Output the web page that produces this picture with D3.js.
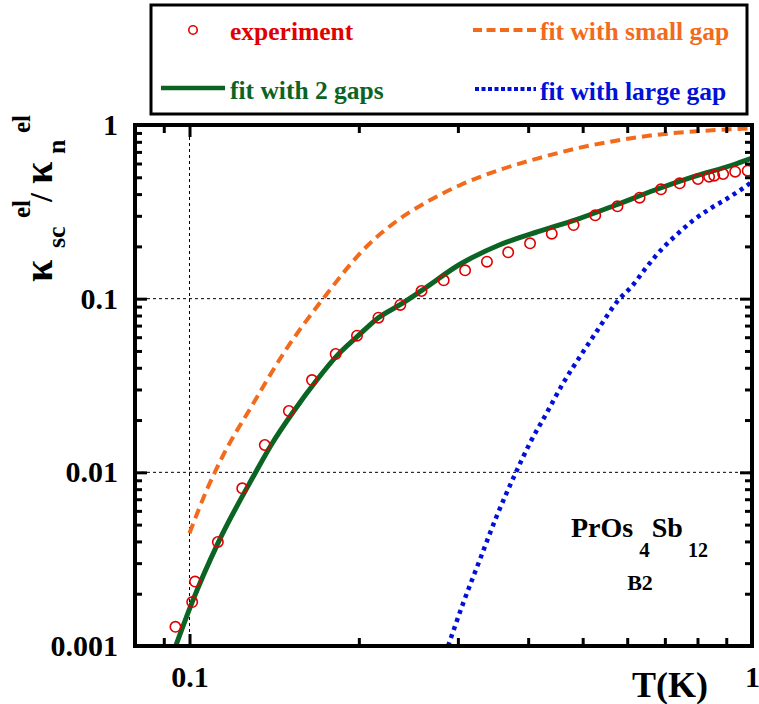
<!DOCTYPE html>
<html>
<head>
<meta charset="utf-8">
<script src="https://cdn.jsdelivr.net/npm/d3@7"></script>
<style>
  html, body { margin: 0; padding: 0; background: #fff; }
  svg { display: block; }
</style>
</head>
<body>
<svg id="chart" width="759" height="704"></svg>
<script>
// ---- data ----
const expT = [0.0944, 0.1011, 0.1023, 0.1123, 0.1241, 0.1361, 0.1502, 0.1651, 0.1819, 0.1985, 0.2167, 0.2370, 0.2585, 0.2831, 0.3090, 0.3379, 0.3686, 0.4031, 0.4406, 0.4817, 0.5264, 0.5765, 0.6311, 0.6889, 0.7437, 0.8014, 0.8390, 0.8568, 0.8886, 0.9334, 0.9825];
const expK = [0.00129, 0.00179, 0.00235, 0.00397, 0.00809, 0.01437, 0.02255, 0.0340, 0.0480, 0.0612, 0.0777, 0.0920, 0.1107, 0.1276, 0.1457, 0.1632, 0.1849, 0.2084, 0.2366, 0.2655, 0.3020, 0.3402, 0.3814, 0.4263, 0.4617, 0.4887, 0.5038, 0.5105, 0.5222, 0.5383, 0.5456];

const twoGapT = [0.0945, 0.1011, 0.1123, 0.1311, 0.1397, 0.1533, 0.1684, 0.1836, 0.1993, 0.2167, 0.2364, 0.2584, 0.3031, 0.3554, 0.4165, 0.4887, 0.5728, 0.6719, 0.7876, 0.9233, 1.0];
const twoGapK = [0.001, 0.00179, 0.0039, 0.0100, 0.01437, 0.02255, 0.0340, 0.0476, 0.0610, 0.0777, 0.092, 0.1112, 0.1583, 0.2037, 0.2430, 0.2864, 0.3462, 0.4223, 0.5038, 0.5884, 0.645];

const smallGapT = [0.1, 0.1071, 0.1146, 0.1288, 0.1476, 0.1739, 0.2069, 0.2349, 0.2669, 0.3031, 0.3554, 0.4165, 0.4887, 0.5728, 0.6719, 0.7876, 1.0];
const smallGapK = [0.00446, 0.00780, 0.01242, 0.02388, 0.0495, 0.1027, 0.2010, 0.2838, 0.3675, 0.4513, 0.5506, 0.6427, 0.734, 0.812, 0.876, 0.917, 0.957];

const largeGapT = [0.2882, 0.3065, 0.3281, 0.3513, 0.3802, 0.4027, 0.4312, 0.4615, 0.4943, 0.5292, 0.5805, 0.6107, 0.6503, 0.6933, 0.7390, 0.7876, 0.8390, 0.8946, 0.9532, 1.0];
const largeGapK = [0.001, 0.00176, 0.00313, 0.00555, 0.00995, 0.01469, 0.02188, 0.0326, 0.0463, 0.0646, 0.0992, 0.1172, 0.1528, 0.195, 0.2378, 0.2838, 0.327, 0.370, 0.4223, 0.47];

const xMajor = [0.1, 1];
const xMinor = [0.09, 0.2, 0.3, 0.4, 0.5, 0.6, 0.7, 0.8, 0.9];
const yMajor = [0.001, 0.01, 0.1, 1];
const yMinor = [];
[0.001, 0.01, 0.1].forEach(d => { for (let k = 2; k <= 9; k++) yMinor.push(+(d * k).toPrecision(3)); });
const xTickLabels = ["0.1", "1"];
const yTickLabels = ["0.001", "0.01", "0.1", "1"];
const legendLabels = ["experiment", "fit with small gap", "fit with 2 gaps", "fit with large gap"];

// ---- styles ----
const FONT = "'Liberation Serif', 'Times New Roman', serif";
const RED = "#e00000", ORANGE = "#f26a1b", GREEN = "#0b6423", BLUE = "#0010d8";

const svg = d3.select("#chart").attr("font-family", FONT).attr("font-weight", "bold");
const L = 135, R = 752, T = 125, B = 646;
const x = d3.scaleLog().domain([0.08, 1]).range([L, R]);
const y = d3.scaleLog().domain([0.001, 1]).range([B, T]);

function txt(sel, s, size) {
  return sel.append("text").attr("font-family", FONT).attr("font-weight", "bold")
    .attr("font-size", size).text(s);
}

svg.append("defs").append("clipPath").attr("id", "clip")
  .append("rect").attr("x", L).attr("y", T).attr("width", R - L).attr("height", B - T);

// grid lines (dotted)
const grid = svg.append("g").attr("stroke", "#000").attr("stroke-width", 1).attr("stroke-dasharray", "3,3");
[0.1, 0.01].forEach(v => grid.append("line").attr("x1", L).attr("x2", R).attr("y1", y(v)).attr("y2", y(v)));
grid.append("line").attr("x1", x(0.1)).attr("x2", x(0.1)).attr("y1", T).attr("y2", B);

// curves
const plot = svg.append("g").attr("clip-path", "url(#clip)");
const line = d3.line().x(d => x(d[0])).y(d => y(d[1])).curve(d3.curveMonotoneX);
const zip = (a, b) => a.map((v, i) => [v, b[i]]);

plot.append("path").datum(zip(smallGapT, smallGapK)).attr("d", line)
  .attr("fill", "none").attr("stroke", ORANGE).attr("stroke-width", 4).attr("stroke-dasharray", "10,6");
plot.append("path").datum(zip(largeGapT, largeGapK)).attr("d", line)
  .attr("fill", "none").attr("stroke", BLUE).attr("stroke-width", 4.5).attr("stroke-dasharray", "4,4.5");
plot.append("path").datum(zip(twoGapT, twoGapK)).attr("d", line)
  .attr("fill", "none").attr("stroke", GREEN).attr("stroke-width", 5);

plot.selectAll("circle.exp").data(zip(expT, expK)).enter().append("circle")
  .attr("class", "exp")
  .attr("cx", d => x(d[0])).attr("cy", d => y(d[1])).attr("r", 5.2)
  .attr("fill", "none").attr("stroke", RED).attr("stroke-width", 1.6);

// axes
function styleAxis(g) {
  g.select(".domain").remove();
  g.attr("font-family", FONT).attr("font-size", 30).attr("font-weight", "bold");
  g.selectAll(".tick line").attr("stroke", "#000").attr("stroke-width", 3);
  g.selectAll(".tick text").attr("fill", "#000").attr("font-family", FONT).attr("font-weight", "bold").attr("font-size", 30);
}
const fmtX = d => xTickLabels[xMajor.indexOf(d)];
const fmtY = d => yTickLabels[yMajor.indexOf(d)];

svg.append("g").attr("transform", `translate(0,${B})`)
  .call(d3.axisBottom(x).tickValues(xMajor).tickSize(-12).tickPadding(20).tickFormat(fmtX)).call(styleAxis);
svg.append("g").attr("transform", `translate(0,${B})`)
  .call(d3.axisBottom(x).tickValues(xMinor).tickSize(-8).tickFormat("")).call(styleAxis);
svg.append("g").attr("transform", `translate(0,${T})`)
  .call(d3.axisTop(x).tickValues(xMajor).tickSize(-12).tickFormat("")).call(styleAxis);
svg.append("g").attr("transform", `translate(0,${T})`)
  .call(d3.axisTop(x).tickValues(xMinor).tickSize(-8).tickFormat("")).call(styleAxis);

svg.append("g").attr("transform", `translate(${L},0)`)
  .call(d3.axisLeft(y).tickValues(yMajor).tickSize(-12).tickPadding(17).tickFormat(fmtY)).call(styleAxis);
svg.append("g").attr("transform", `translate(${L},0)`)
  .call(d3.axisLeft(y).tickValues(yMinor).tickSize(-7).tickFormat("")).call(styleAxis);
svg.append("g").attr("transform", `translate(${R},0)`)
  .call(d3.axisRight(y).tickValues(yMajor).tickSize(-12).tickFormat("")).call(styleAxis);
svg.append("g").attr("transform", `translate(${R},0)`)
  .call(d3.axisRight(y).tickValues(yMinor).tickSize(-7).tickFormat("")).call(styleAxis);

// frame
svg.append("rect").attr("x", L).attr("y", T).attr("width", R - L).attr("height", B - T)
  .attr("fill", "none").attr("stroke", "#000").attr("stroke-width", 4);

// x axis title
txt(svg, "T(K)", 36).attr("x", 670).attr("y", 697).attr("text-anchor", "middle");

// y axis title  κ_sc^el / κ_n^el
const yt = svg.append("g").attr("transform", "translate(52,282) rotate(-90)");
const part = (s, px, py, fs) => txt(yt, s, fs).attr("x", px).attr("y", py);
part("\u03BA", 0, 0, 40);
part("sc", 34, 13, 26);
part("el", 64, -22, 25);
part("/", 80, 0, 32);
part("\u03BA", 98, 0, 40);
part("n", 128, 13, 26);
part("el", 149, -22, 25);

// annotation
const ann = txt(svg, "", 28).attr("x", 571).attr("y", 537);
ann.append("tspan").text("PrOs");
ann.append("tspan").attr("dx", 6).attr("dy", 20).attr("font-size", 21).text("4");
ann.append("tspan").attr("dx", 2).attr("dy", -20).text("Sb");
ann.append("tspan").attr("dx", 5).attr("dy", 20).attr("font-size", 20).text("12");
txt(svg, "B2", 22).attr("x", 640).attr("y", 590).attr("text-anchor", "middle");

// legend
svg.append("rect").attr("x", 151).attr("y", 5).attr("width", 596).attr("height", 109)
  .attr("fill", "#fff").attr("stroke", "#000").attr("stroke-width", 3);
const lg = svg.append("g");
lg.append("circle").attr("cx", 193).attr("cy", 30).attr("r", 4.2).attr("fill", "none").attr("stroke", RED).attr("stroke-width", 1.6);
txt(lg, legendLabels[0], 25.5).attr("x", 230).attr("y", 40).attr("fill", RED);
lg.append("line").attr("x1", 473).attr("x2", 536).attr("y1", 30).attr("y2", 30)
  .attr("stroke", ORANGE).attr("stroke-width", 4).attr("stroke-dasharray", "9,4.5");
txt(lg, legendLabels[1], 25.5).attr("x", 540).attr("y", 40).attr("fill", ORANGE);
lg.append("line").attr("x1", 161).attr("x2", 225).attr("y1", 88).attr("y2", 88)
  .attr("stroke", GREEN).attr("stroke-width", 4.5);
txt(lg, legendLabels[2], 25.5).attr("x", 230).attr("y", 99).attr("fill", GREEN);
lg.append("line").attr("x1", 475).attr("x2", 536).attr("y1", 89).attr("y2", 89)
  .attr("stroke", BLUE).attr("stroke-width", 4).attr("stroke-dasharray", "4,2.5");
txt(lg, legendLabels[3], 25.5).attr("x", 540).attr("y", 100).attr("fill", BLUE);
</script>
</body>
</html>
